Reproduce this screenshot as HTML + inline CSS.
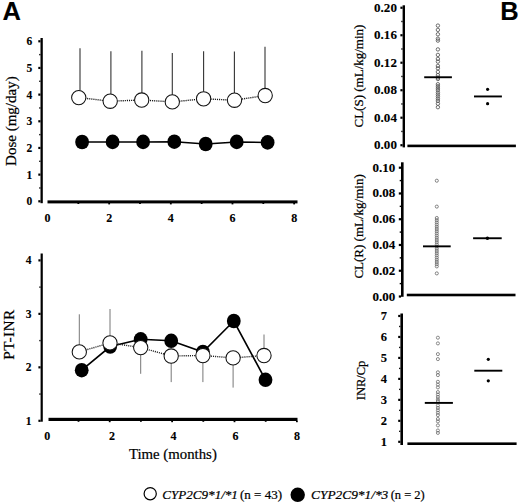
<!DOCTYPE html>
<html><head><meta charset="utf-8"><style>
html,body{margin:0;padding:0;background:#fff;width:520px;height:504px;overflow:hidden;}
svg{display:block;}
text{stroke:#000;stroke-width:0.22px;}
text[font-weight=bold]{stroke-width:0.12px;}
</style></head><body>
<svg width="520" height="504" viewBox="0 0 520 504">
<text x="2.60" y="19.60" font-family='"Liberation Sans", sans-serif' font-size="25.5" font-weight="bold" font-style="normal" text-anchor="start" stroke="#000" stroke-width="0.5">A</text>
<text x="500.30" y="20.00" font-family='"Liberation Sans", sans-serif' font-size="25.5" font-weight="bold" font-style="normal" text-anchor="start" stroke="#000" stroke-width="0.5">B</text>
<rect x="40.50" y="38.00" width="2.30" height="165.20" fill="#000"/>
<rect x="38.30" y="200.20" width="2.20" height="2.20" fill="#000"/>
<rect x="38.30" y="173.53" width="2.20" height="2.20" fill="#000"/>
<rect x="38.30" y="146.86" width="2.20" height="2.20" fill="#000"/>
<rect x="38.30" y="120.19" width="2.20" height="2.20" fill="#000"/>
<rect x="38.30" y="93.52" width="2.20" height="2.20" fill="#000"/>
<rect x="38.30" y="66.85" width="2.20" height="2.20" fill="#000"/>
<rect x="38.30" y="40.18" width="2.20" height="2.20" fill="#000"/>
<rect x="39.20" y="187.27" width="1.30" height="1.40" fill="#000"/>
<rect x="39.20" y="160.60" width="1.30" height="1.40" fill="#000"/>
<rect x="39.20" y="133.93" width="1.30" height="1.40" fill="#000"/>
<rect x="39.20" y="107.26" width="1.30" height="1.40" fill="#000"/>
<rect x="39.20" y="80.58" width="1.30" height="1.40" fill="#000"/>
<rect x="39.20" y="53.92" width="1.30" height="1.40" fill="#000"/>
<rect x="47.50" y="200.40" width="250.00" height="3.00" fill="#000"/>
<rect x="77.43" y="203.00" width="1.80" height="1.00" fill="#000"/>
<rect x="108.26" y="203.00" width="1.80" height="1.40" fill="#000"/>
<rect x="139.09" y="203.00" width="1.80" height="1.00" fill="#000"/>
<rect x="169.92" y="203.00" width="1.80" height="1.40" fill="#000"/>
<rect x="200.75" y="203.00" width="1.80" height="1.00" fill="#000"/>
<rect x="231.58" y="203.00" width="1.80" height="1.40" fill="#000"/>
<rect x="262.41" y="203.00" width="1.80" height="1.00" fill="#000"/>
<rect x="293.24" y="203.00" width="1.80" height="1.40" fill="#000"/>
<text x="47.50" y="221.90" font-family='"Liberation Serif", serif' font-size="12" font-weight="bold" font-style="normal" text-anchor="middle">0</text>
<text x="109.16" y="221.90" font-family='"Liberation Serif", serif' font-size="12" font-weight="bold" font-style="normal" text-anchor="middle">2</text>
<text x="170.82" y="221.90" font-family='"Liberation Serif", serif' font-size="12" font-weight="bold" font-style="normal" text-anchor="middle">4</text>
<text x="232.48" y="221.90" font-family='"Liberation Serif", serif' font-size="12" font-weight="bold" font-style="normal" text-anchor="middle">6</text>
<text x="294.14" y="221.90" font-family='"Liberation Serif", serif' font-size="12" font-weight="bold" font-style="normal" text-anchor="middle">8</text>
<text x="32.20" y="205.30" font-family='"Liberation Serif", serif' font-size="11.5" font-weight="bold" font-style="normal" text-anchor="end">0</text>
<text x="32.20" y="178.63" font-family='"Liberation Serif", serif' font-size="11.5" font-weight="bold" font-style="normal" text-anchor="end">1</text>
<text x="32.20" y="151.96" font-family='"Liberation Serif", serif' font-size="11.5" font-weight="bold" font-style="normal" text-anchor="end">2</text>
<text x="32.20" y="125.29" font-family='"Liberation Serif", serif' font-size="11.5" font-weight="bold" font-style="normal" text-anchor="end">3</text>
<text x="32.20" y="98.62" font-family='"Liberation Serif", serif' font-size="11.5" font-weight="bold" font-style="normal" text-anchor="end">4</text>
<text x="32.20" y="71.95" font-family='"Liberation Serif", serif' font-size="11.5" font-weight="bold" font-style="normal" text-anchor="end">5</text>
<text x="32.20" y="45.28" font-family='"Liberation Serif", serif' font-size="11.5" font-weight="bold" font-style="normal" text-anchor="end">6</text>
<text transform="translate(16.30,121.15) rotate(-90)" x="0" y="0" font-family='"Liberation Serif", serif' font-size="15" font-weight="normal" text-anchor="middle">Dose (mg/day)</text>
<polyline points="82.1,142.0 112.6,141.9 143.1,141.9 174.3,141.7 205.7,144.0 236.7,141.9 267.6,142.4" fill="none" stroke="#000" stroke-width="1.5"/>
<ellipse cx="82.1" cy="142.0" rx="6.9" ry="7.3" fill="#000"/>
<ellipse cx="112.6" cy="141.9" rx="6.9" ry="7.3" fill="#000"/>
<ellipse cx="143.1" cy="141.9" rx="6.9" ry="7.3" fill="#000"/>
<ellipse cx="174.3" cy="141.7" rx="6.9" ry="7.3" fill="#000"/>
<ellipse cx="205.7" cy="144.0" rx="6.9" ry="7.3" fill="#000"/>
<ellipse cx="236.7" cy="141.9" rx="6.9" ry="7.3" fill="#000"/>
<ellipse cx="267.6" cy="142.4" rx="6.9" ry="7.3" fill="#000"/>
<line x1="80.00" y1="48.30" x2="80.00" y2="90.60" stroke="#333" stroke-width="1.1"/>
<line x1="110.90" y1="51.20" x2="110.90" y2="94.20" stroke="#333" stroke-width="1.1"/>
<line x1="141.90" y1="50.70" x2="141.90" y2="93.00" stroke="#333" stroke-width="1.1"/>
<line x1="172.30" y1="53.00" x2="172.30" y2="94.90" stroke="#333" stroke-width="1.1"/>
<line x1="203.60" y1="51.20" x2="203.60" y2="91.80" stroke="#333" stroke-width="1.1"/>
<line x1="234.40" y1="51.40" x2="234.40" y2="93.20" stroke="#333" stroke-width="1.1"/>
<line x1="265.00" y1="46.70" x2="265.00" y2="88.50" stroke="#333" stroke-width="1.1"/>
<polyline points="78.8,97.6 110.2,101.2 141.7,100.0 172.3,101.9 203.6,98.8 234.5,100.2 265.2,95.5" fill="none" stroke="#111" stroke-width="1.4" stroke-dasharray="1.1,1"/>
<circle cx="78.75" cy="97.6" r="7.15" fill="#fff" stroke="#111" stroke-width="1.05"/>
<circle cx="110.2" cy="101.2" r="7.15" fill="#fff" stroke="#111" stroke-width="1.05"/>
<circle cx="141.7" cy="100.0" r="7.15" fill="#fff" stroke="#111" stroke-width="1.05"/>
<circle cx="172.3" cy="101.9" r="7.15" fill="#fff" stroke="#111" stroke-width="1.05"/>
<circle cx="203.6" cy="98.8" r="7.15" fill="#fff" stroke="#111" stroke-width="1.05"/>
<circle cx="234.5" cy="100.2" r="7.15" fill="#fff" stroke="#111" stroke-width="1.05"/>
<circle cx="265.2" cy="95.5" r="7.15" fill="#fff" stroke="#111" stroke-width="1.05"/>
<rect x="40.60" y="253.50" width="2.20" height="168.20" fill="#000"/>
<rect x="38.40" y="419.70" width="2.20" height="2.20" fill="#000"/>
<rect x="38.40" y="366.23" width="2.20" height="2.20" fill="#000"/>
<rect x="38.40" y="312.76" width="2.20" height="2.20" fill="#000"/>
<rect x="38.40" y="259.29" width="2.20" height="2.20" fill="#000"/>
<rect x="39.30" y="393.37" width="1.30" height="1.40" fill="#000"/>
<rect x="39.30" y="339.90" width="1.30" height="1.40" fill="#000"/>
<rect x="39.30" y="286.43" width="1.30" height="1.40" fill="#000"/>
<rect x="48.50" y="417.80" width="249.00" height="3.20" fill="#000"/>
<rect x="77.60" y="420.80" width="1.80" height="1.00" fill="#000"/>
<rect x="108.80" y="420.80" width="1.80" height="1.40" fill="#000"/>
<rect x="140.00" y="420.80" width="1.80" height="1.00" fill="#000"/>
<rect x="171.20" y="420.80" width="1.80" height="1.40" fill="#000"/>
<rect x="202.40" y="420.80" width="1.80" height="1.00" fill="#000"/>
<rect x="233.60" y="420.80" width="1.80" height="1.40" fill="#000"/>
<rect x="264.80" y="420.80" width="1.80" height="1.00" fill="#000"/>
<rect x="296.00" y="420.80" width="1.80" height="1.40" fill="#000"/>
<text x="47.30" y="439.70" font-family='"Liberation Serif", serif' font-size="12" font-weight="bold" font-style="normal" text-anchor="middle">0</text>
<text x="112.00" y="439.70" font-family='"Liberation Serif", serif' font-size="12" font-weight="bold" font-style="normal" text-anchor="middle">2</text>
<text x="173.50" y="439.70" font-family='"Liberation Serif", serif' font-size="12" font-weight="bold" font-style="normal" text-anchor="middle">4</text>
<text x="235.50" y="439.70" font-family='"Liberation Serif", serif' font-size="12" font-weight="bold" font-style="normal" text-anchor="middle">6</text>
<text x="296.90" y="439.70" font-family='"Liberation Serif", serif' font-size="12" font-weight="bold" font-style="normal" text-anchor="middle">8</text>
<text x="31.40" y="424.70" font-family='"Liberation Serif", serif' font-size="11.5" font-weight="bold" font-style="normal" text-anchor="end">1</text>
<text x="31.40" y="371.23" font-family='"Liberation Serif", serif' font-size="11.5" font-weight="bold" font-style="normal" text-anchor="end">2</text>
<text x="31.40" y="317.76" font-family='"Liberation Serif", serif' font-size="11.5" font-weight="bold" font-style="normal" text-anchor="end">3</text>
<text x="31.40" y="264.29" font-family='"Liberation Serif", serif' font-size="11.5" font-weight="bold" font-style="normal" text-anchor="end">4</text>
<text transform="translate(14.10,334.80) rotate(-90)" x="0" y="0" font-family='"Liberation Serif", serif' font-size="15.3" font-weight="normal" text-anchor="middle" textLength="49.8" lengthAdjust="spacing">PT-INR</text>
<text x="172.90" y="459.00" font-family='"Liberation Serif", serif' font-size="14.8" font-weight="normal" font-style="normal" text-anchor="middle">Time (months)</text>
<polyline points="81.7,370.2 110.2,346.5 140.7,339.3 171.2,340.8 202.9,352.0 233.8,321.0 265.5,379.8" fill="none" stroke="#000" stroke-width="1.65"/>
<ellipse cx="81.7" cy="370.2" rx="6.9" ry="7.3" fill="#000"/>
<ellipse cx="110.2" cy="346.5" rx="6.9" ry="7.3" fill="#000"/>
<ellipse cx="140.7" cy="339.3" rx="6.9" ry="7.3" fill="#000"/>
<ellipse cx="171.2" cy="340.8" rx="6.9" ry="7.3" fill="#000"/>
<ellipse cx="202.9" cy="352.0" rx="6.9" ry="7.3" fill="#000"/>
<ellipse cx="233.8" cy="321.0" rx="6.9" ry="7.3" fill="#000"/>
<ellipse cx="265.5" cy="379.8" rx="6.9" ry="7.3" fill="#000"/>
<line x1="79.30" y1="314.30" x2="79.30" y2="344.90" stroke="#777" stroke-width="1.0"/>
<line x1="110.00" y1="309.00" x2="110.00" y2="335.90" stroke="#777" stroke-width="1.0"/>
<line x1="140.70" y1="354.60" x2="140.70" y2="373.80" stroke="#777" stroke-width="1.0"/>
<line x1="171.20" y1="363.00" x2="171.20" y2="382.10" stroke="#777" stroke-width="1.0"/>
<line x1="202.90" y1="362.50" x2="202.90" y2="382.10" stroke="#777" stroke-width="1.0"/>
<line x1="233.10" y1="364.90" x2="233.10" y2="387.60" stroke="#777" stroke-width="1.0"/>
<line x1="264.00" y1="334.50" x2="264.00" y2="348.50" stroke="#777" stroke-width="1.0"/>
<polyline points="79.3,351.9 110.0,342.9 140.7,347.6 171.2,356.0 202.9,355.5 233.1,357.9 264.0,355.5" fill="none" stroke="#222" stroke-width="1.4" stroke-dasharray="1.1,1"/>
<circle cx="79.3" cy="351.9" r="7.15" fill="#fff" stroke="#111" stroke-width="1.05"/>
<circle cx="110.0" cy="342.9" r="7.15" fill="#fff" stroke="#111" stroke-width="1.05"/>
<circle cx="140.7" cy="347.6" r="7.15" fill="#fff" stroke="#111" stroke-width="1.05"/>
<circle cx="171.2" cy="356.0" r="7.15" fill="#fff" stroke="#111" stroke-width="1.05"/>
<circle cx="202.9" cy="355.5" r="7.15" fill="#fff" stroke="#111" stroke-width="1.05"/>
<circle cx="233.1" cy="357.9" r="7.15" fill="#fff" stroke="#111" stroke-width="1.05"/>
<circle cx="264.0" cy="355.5" r="7.15" fill="#fff" stroke="#111" stroke-width="1.05"/>
<rect x="402.60" y="5.30" width="2.40" height="142.10" fill="#000"/>
<rect x="400.40" y="144.10" width="2.20" height="2.20" fill="#000"/>
<rect x="400.40" y="116.61" width="2.20" height="2.20" fill="#000"/>
<rect x="400.40" y="89.12" width="2.20" height="2.20" fill="#000"/>
<rect x="400.40" y="61.63" width="2.20" height="2.20" fill="#000"/>
<rect x="400.40" y="34.14" width="2.20" height="2.20" fill="#000"/>
<rect x="400.40" y="6.65" width="2.20" height="2.20" fill="#000"/>
<rect x="401.30" y="130.75" width="1.30" height="1.40" fill="#000"/>
<rect x="401.30" y="103.26" width="1.30" height="1.40" fill="#000"/>
<rect x="401.30" y="75.77" width="1.30" height="1.40" fill="#000"/>
<rect x="401.30" y="48.28" width="1.30" height="1.40" fill="#000"/>
<rect x="401.30" y="20.79" width="1.30" height="1.40" fill="#000"/>
<rect x="407.40" y="144.60" width="108.50" height="2.60" fill="#000"/>
<text x="396.90" y="149.20" font-family='"Liberation Serif", serif' font-size="12.5" font-weight="bold" font-style="normal" text-anchor="end" textLength="22.8" lengthAdjust="spacingAndGlyphs">0.00</text>
<text x="396.90" y="121.71" font-family='"Liberation Serif", serif' font-size="12.5" font-weight="bold" font-style="normal" text-anchor="end" textLength="22.8" lengthAdjust="spacingAndGlyphs">0.04</text>
<text x="396.90" y="94.22" font-family='"Liberation Serif", serif' font-size="12.5" font-weight="bold" font-style="normal" text-anchor="end" textLength="22.8" lengthAdjust="spacingAndGlyphs">0.08</text>
<text x="396.90" y="66.73" font-family='"Liberation Serif", serif' font-size="12.5" font-weight="bold" font-style="normal" text-anchor="end" textLength="22.8" lengthAdjust="spacingAndGlyphs">0.12</text>
<text x="396.90" y="39.24" font-family='"Liberation Serif", serif' font-size="12.5" font-weight="bold" font-style="normal" text-anchor="end" textLength="22.8" lengthAdjust="spacingAndGlyphs">0.16</text>
<text x="396.90" y="11.75" font-family='"Liberation Serif", serif' font-size="12.5" font-weight="bold" font-style="normal" text-anchor="end" textLength="22.8" lengthAdjust="spacingAndGlyphs">0.20</text>
<text transform="translate(362.70,76.05) rotate(-90)" x="0" y="0" font-family='"Liberation Serif", serif' font-size="13" font-weight="normal" text-anchor="middle">CL(S) (mL/kg/min)</text>
<rect x="401.00" y="162.30" width="2.60" height="134.50" fill="#000"/>
<rect x="398.80" y="295.40" width="2.20" height="2.20" fill="#000"/>
<rect x="398.80" y="269.64" width="2.20" height="2.20" fill="#000"/>
<rect x="398.80" y="243.88" width="2.20" height="2.20" fill="#000"/>
<rect x="398.80" y="218.12" width="2.20" height="2.20" fill="#000"/>
<rect x="398.80" y="192.36" width="2.20" height="2.20" fill="#000"/>
<rect x="398.80" y="166.60" width="2.20" height="2.20" fill="#000"/>
<rect x="399.70" y="282.92" width="1.30" height="1.40" fill="#000"/>
<rect x="399.70" y="257.16" width="1.30" height="1.40" fill="#000"/>
<rect x="399.70" y="231.40" width="1.30" height="1.40" fill="#000"/>
<rect x="399.70" y="205.64" width="1.30" height="1.40" fill="#000"/>
<rect x="399.70" y="179.88" width="1.30" height="1.40" fill="#000"/>
<rect x="406.80" y="293.70" width="108.70" height="2.60" fill="#000"/>
<text x="395.20" y="300.50" font-family='"Liberation Serif", serif' font-size="12.5" font-weight="bold" font-style="normal" text-anchor="end" textLength="22.8" lengthAdjust="spacingAndGlyphs">0.00</text>
<text x="395.20" y="274.74" font-family='"Liberation Serif", serif' font-size="12.5" font-weight="bold" font-style="normal" text-anchor="end" textLength="22.8" lengthAdjust="spacingAndGlyphs">0.02</text>
<text x="395.20" y="248.98" font-family='"Liberation Serif", serif' font-size="12.5" font-weight="bold" font-style="normal" text-anchor="end" textLength="22.8" lengthAdjust="spacingAndGlyphs">0.04</text>
<text x="395.20" y="223.22" font-family='"Liberation Serif", serif' font-size="12.5" font-weight="bold" font-style="normal" text-anchor="end" textLength="22.8" lengthAdjust="spacingAndGlyphs">0.06</text>
<text x="395.20" y="197.46" font-family='"Liberation Serif", serif' font-size="12.5" font-weight="bold" font-style="normal" text-anchor="end" textLength="22.8" lengthAdjust="spacingAndGlyphs">0.08</text>
<text x="395.20" y="171.70" font-family='"Liberation Serif", serif' font-size="12.5" font-weight="bold" font-style="normal" text-anchor="end" textLength="22.8" lengthAdjust="spacingAndGlyphs">0.10</text>
<text transform="translate(362.70,226.45) rotate(-90)" x="0" y="0" font-family='"Liberation Serif", serif' font-size="13" font-weight="normal" text-anchor="middle">CL(R) (mL/kg/min)</text>
<rect x="400.40" y="313.50" width="2.60" height="131.50" fill="#000"/>
<rect x="398.20" y="440.70" width="2.20" height="2.20" fill="#000"/>
<rect x="398.20" y="419.73" width="2.20" height="2.20" fill="#000"/>
<rect x="398.20" y="398.76" width="2.20" height="2.20" fill="#000"/>
<rect x="398.20" y="377.79" width="2.20" height="2.20" fill="#000"/>
<rect x="398.20" y="356.82" width="2.20" height="2.20" fill="#000"/>
<rect x="398.20" y="335.85" width="2.20" height="2.20" fill="#000"/>
<rect x="398.20" y="314.88" width="2.20" height="2.20" fill="#000"/>
<rect x="399.10" y="430.62" width="1.30" height="1.40" fill="#000"/>
<rect x="399.10" y="409.65" width="1.30" height="1.40" fill="#000"/>
<rect x="399.10" y="388.68" width="1.30" height="1.40" fill="#000"/>
<rect x="399.10" y="367.71" width="1.30" height="1.40" fill="#000"/>
<rect x="399.10" y="346.74" width="1.30" height="1.40" fill="#000"/>
<rect x="399.10" y="325.77" width="1.30" height="1.40" fill="#000"/>
<rect x="407.40" y="442.40" width="109.20" height="2.60" fill="#000"/>
<text x="387.00" y="445.80" font-family='"Liberation Serif", serif' font-size="12.5" font-weight="bold" font-style="normal" text-anchor="end">1</text>
<text x="387.00" y="424.83" font-family='"Liberation Serif", serif' font-size="12.5" font-weight="bold" font-style="normal" text-anchor="end">2</text>
<text x="387.00" y="403.86" font-family='"Liberation Serif", serif' font-size="12.5" font-weight="bold" font-style="normal" text-anchor="end">3</text>
<text x="387.00" y="382.89" font-family='"Liberation Serif", serif' font-size="12.5" font-weight="bold" font-style="normal" text-anchor="end">4</text>
<text x="387.00" y="361.92" font-family='"Liberation Serif", serif' font-size="12.5" font-weight="bold" font-style="normal" text-anchor="end">5</text>
<text x="387.00" y="340.95" font-family='"Liberation Serif", serif' font-size="12.5" font-weight="bold" font-style="normal" text-anchor="end">6</text>
<text x="387.00" y="319.98" font-family='"Liberation Serif", serif' font-size="12.5" font-weight="bold" font-style="normal" text-anchor="end">7</text>
<text transform="translate(364.70,380.45) rotate(-90)" x="0" y="0" font-family='"Liberation Serif", serif' font-size="12.5" font-weight="normal" text-anchor="middle">INR/Cp</text>
<circle cx="437.9" cy="25.6" r="1.7" fill="none" stroke="#555" stroke-width="0.85"/>
<circle cx="437.9" cy="29.9" r="1.7" fill="none" stroke="#555" stroke-width="0.85"/>
<circle cx="437.9" cy="34.3" r="1.7" fill="none" stroke="#555" stroke-width="0.85"/>
<circle cx="437.9" cy="38.7" r="1.7" fill="none" stroke="#555" stroke-width="0.85"/>
<circle cx="437.9" cy="40.6" r="1.7" fill="none" stroke="#555" stroke-width="0.85"/>
<circle cx="437.9" cy="49.4" r="1.7" fill="none" stroke="#555" stroke-width="0.85"/>
<circle cx="437.9" cy="54.9" r="1.7" fill="none" stroke="#555" stroke-width="0.85"/>
<circle cx="437.9" cy="58.9" r="1.7" fill="none" stroke="#555" stroke-width="0.85"/>
<circle cx="437.9" cy="61.6" r="1.7" fill="none" stroke="#555" stroke-width="0.85"/>
<circle cx="437.9" cy="65.9" r="1.7" fill="none" stroke="#555" stroke-width="0.85"/>
<circle cx="437.9" cy="68.3" r="1.7" fill="none" stroke="#555" stroke-width="0.85"/>
<circle cx="437.9" cy="71.9" r="1.7" fill="none" stroke="#555" stroke-width="0.85"/>
<circle cx="437.9" cy="75.1" r="1.7" fill="none" stroke="#555" stroke-width="0.85"/>
<circle cx="437.9" cy="77.5" r="1.7" fill="none" stroke="#555" stroke-width="0.85"/>
<circle cx="437.9" cy="79.0" r="1.7" fill="none" stroke="#555" stroke-width="0.85"/>
<circle cx="437.9" cy="84.2" r="1.7" fill="none" stroke="#555" stroke-width="0.85"/>
<circle cx="437.9" cy="86.2" r="1.7" fill="none" stroke="#555" stroke-width="0.85"/>
<circle cx="437.9" cy="88.2" r="1.7" fill="none" stroke="#555" stroke-width="0.85"/>
<circle cx="437.9" cy="90.1" r="1.7" fill="none" stroke="#555" stroke-width="0.85"/>
<circle cx="437.9" cy="92.5" r="1.7" fill="none" stroke="#555" stroke-width="0.85"/>
<circle cx="437.9" cy="94.5" r="1.7" fill="none" stroke="#555" stroke-width="0.85"/>
<circle cx="437.9" cy="96.5" r="1.7" fill="none" stroke="#555" stroke-width="0.85"/>
<circle cx="437.9" cy="98.7" r="1.7" fill="none" stroke="#555" stroke-width="0.85"/>
<circle cx="437.9" cy="100.9" r="1.7" fill="none" stroke="#555" stroke-width="0.85"/>
<circle cx="437.9" cy="103.7" r="1.7" fill="none" stroke="#555" stroke-width="0.85"/>
<circle cx="437.9" cy="107.2" r="1.7" fill="none" stroke="#555" stroke-width="0.85"/>
<rect x="424.20" y="76.30" width="27.70" height="1.90" fill="#000"/>
<circle cx="487.6" cy="89.3" r="1.6" fill="#000"/>
<circle cx="487.6" cy="103.7" r="1.6" fill="#000"/>
<rect x="474.00" y="95.50" width="27.90" height="1.90" fill="#000"/>
<circle cx="436.8" cy="180.7" r="1.55" fill="none" stroke="#666" stroke-width="0.8"/>
<circle cx="436.8" cy="206.6" r="1.55" fill="none" stroke="#666" stroke-width="0.8"/>
<circle cx="436.8" cy="218.0" r="1.55" fill="none" stroke="#666" stroke-width="0.8"/>
<circle cx="436.8" cy="220.2" r="1.55" fill="none" stroke="#666" stroke-width="0.8"/>
<circle cx="436.8" cy="222.4" r="1.55" fill="none" stroke="#666" stroke-width="0.8"/>
<circle cx="436.8" cy="224.6" r="1.55" fill="none" stroke="#666" stroke-width="0.8"/>
<circle cx="436.8" cy="226.8" r="1.55" fill="none" stroke="#666" stroke-width="0.8"/>
<circle cx="436.8" cy="229.0" r="1.55" fill="none" stroke="#666" stroke-width="0.8"/>
<circle cx="436.8" cy="231.2" r="1.55" fill="none" stroke="#666" stroke-width="0.8"/>
<circle cx="436.8" cy="233.4" r="1.55" fill="none" stroke="#666" stroke-width="0.8"/>
<circle cx="436.8" cy="235.6" r="1.55" fill="none" stroke="#666" stroke-width="0.8"/>
<circle cx="436.8" cy="237.8" r="1.55" fill="none" stroke="#666" stroke-width="0.8"/>
<circle cx="436.8" cy="240.0" r="1.55" fill="none" stroke="#666" stroke-width="0.8"/>
<circle cx="436.8" cy="242.2" r="1.55" fill="none" stroke="#666" stroke-width="0.8"/>
<circle cx="436.8" cy="244.4" r="1.55" fill="none" stroke="#666" stroke-width="0.8"/>
<circle cx="436.8" cy="246.6" r="1.55" fill="none" stroke="#666" stroke-width="0.8"/>
<circle cx="436.8" cy="248.8" r="1.55" fill="none" stroke="#666" stroke-width="0.8"/>
<circle cx="436.8" cy="251.0" r="1.55" fill="none" stroke="#666" stroke-width="0.8"/>
<circle cx="436.8" cy="253.2" r="1.55" fill="none" stroke="#666" stroke-width="0.8"/>
<circle cx="436.8" cy="255.4" r="1.55" fill="none" stroke="#666" stroke-width="0.8"/>
<circle cx="436.8" cy="257.6" r="1.55" fill="none" stroke="#666" stroke-width="0.8"/>
<circle cx="436.8" cy="259.8" r="1.55" fill="none" stroke="#666" stroke-width="0.8"/>
<circle cx="436.8" cy="262.0" r="1.55" fill="none" stroke="#666" stroke-width="0.8"/>
<circle cx="436.8" cy="264.2" r="1.55" fill="none" stroke="#666" stroke-width="0.8"/>
<circle cx="436.8" cy="266.4" r="1.55" fill="none" stroke="#666" stroke-width="0.8"/>
<circle cx="436.8" cy="273.4" r="1.55" fill="none" stroke="#666" stroke-width="0.8"/>
<rect x="423.00" y="245.40" width="27.70" height="1.90" fill="#000"/>
<rect x="473.10" y="237.30" width="28.60" height="1.90" fill="#000"/>
<circle cx="487.4" cy="238.2" r="1.8" fill="#000"/>
<circle cx="437.9" cy="337.7" r="1.55" fill="none" stroke="#666" stroke-width="0.75"/>
<circle cx="437.9" cy="343.4" r="1.55" fill="none" stroke="#666" stroke-width="0.75"/>
<circle cx="437.9" cy="354.1" r="1.55" fill="none" stroke="#666" stroke-width="0.75"/>
<circle cx="437.9" cy="359.1" r="1.55" fill="none" stroke="#666" stroke-width="0.75"/>
<circle cx="437.9" cy="372.3" r="1.55" fill="none" stroke="#666" stroke-width="0.75"/>
<circle cx="437.9" cy="375.1" r="1.55" fill="none" stroke="#666" stroke-width="0.75"/>
<circle cx="437.9" cy="381.8" r="1.55" fill="none" stroke="#666" stroke-width="0.75"/>
<circle cx="437.9" cy="384.6" r="1.55" fill="none" stroke="#666" stroke-width="0.75"/>
<circle cx="437.9" cy="387.4" r="1.55" fill="none" stroke="#666" stroke-width="0.75"/>
<circle cx="437.9" cy="392.1" r="1.55" fill="none" stroke="#666" stroke-width="0.75"/>
<circle cx="437.9" cy="394.5" r="1.55" fill="none" stroke="#666" stroke-width="0.75"/>
<circle cx="437.9" cy="396.9" r="1.55" fill="none" stroke="#666" stroke-width="0.75"/>
<circle cx="437.9" cy="399.3" r="1.55" fill="none" stroke="#666" stroke-width="0.75"/>
<circle cx="437.9" cy="401.0" r="1.55" fill="none" stroke="#666" stroke-width="0.75"/>
<circle cx="437.9" cy="405.5" r="1.55" fill="none" stroke="#666" stroke-width="0.75"/>
<circle cx="437.9" cy="407.9" r="1.55" fill="none" stroke="#666" stroke-width="0.75"/>
<circle cx="437.9" cy="410.3" r="1.55" fill="none" stroke="#666" stroke-width="0.75"/>
<circle cx="437.9" cy="412.7" r="1.55" fill="none" stroke="#666" stroke-width="0.75"/>
<circle cx="437.9" cy="415.1" r="1.55" fill="none" stroke="#666" stroke-width="0.75"/>
<circle cx="437.9" cy="419.0" r="1.55" fill="none" stroke="#666" stroke-width="0.75"/>
<circle cx="437.9" cy="421.4" r="1.55" fill="none" stroke="#666" stroke-width="0.75"/>
<circle cx="437.9" cy="425.4" r="1.55" fill="none" stroke="#666" stroke-width="0.75"/>
<circle cx="437.9" cy="430.5" r="1.55" fill="none" stroke="#666" stroke-width="0.75"/>
<circle cx="437.9" cy="432.9" r="1.55" fill="none" stroke="#666" stroke-width="0.75"/>
<rect x="424.80" y="401.95" width="28.10" height="1.90" fill="#000"/>
<circle cx="488.3" cy="359.3" r="1.6" fill="#000"/>
<circle cx="488.3" cy="380.8" r="1.6" fill="#000"/>
<rect x="474.30" y="369.75" width="28.00" height="1.90" fill="#000"/>
<circle cx="150.2" cy="493.7" r="6.1" fill="#fff" stroke="#000" stroke-width="1.2"/>
<text x="162.3" y="499.0" font-family='"Liberation Serif", serif' font-size="12.9" font-style="italic" textLength="75.6" lengthAdjust="spacingAndGlyphs">CYP2C9*1/*1</text>
<text x="240.0" y="499.4" font-family='"Liberation Serif", serif' font-size="13">(n = 43)</text>
<circle cx="297.7" cy="494.8" r="7.2" fill="#000"/>
<text x="311.1" y="499.0" font-family='"Liberation Serif", serif' font-size="12.9" font-style="italic" textLength="77.2" lengthAdjust="spacingAndGlyphs">CYP2C9*1/*3</text>
<text x="390.7" y="499.4" font-family='"Liberation Serif", serif' font-size="13" textLength="34.0" lengthAdjust="spacingAndGlyphs">(n = 2)</text>
</svg>
</body></html>
